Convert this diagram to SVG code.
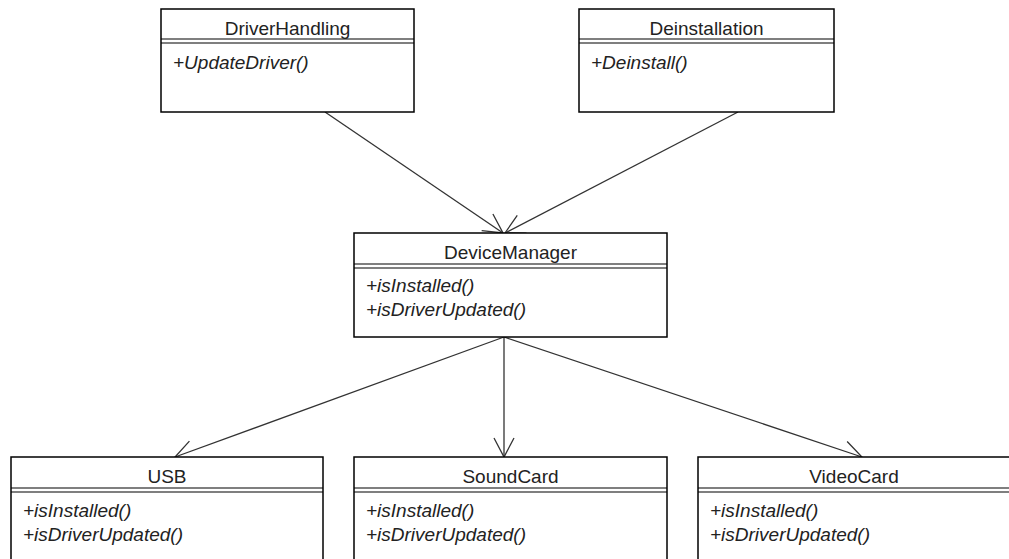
<svg xmlns="http://www.w3.org/2000/svg" width="1009" height="559" viewBox="0 0 1009 559">
  <style>
    .box { fill: #ffffff; stroke: #000000; stroke-width: 1.5; }
    .sep { stroke: #000000; stroke-width: 1.2; }
    .name { font-family: "Liberation Sans", Arial, sans-serif; font-size: 19px; fill: #222222; text-anchor: middle; }
    .op { font-family: "Liberation Sans", Arial, sans-serif; font-size: 19px; font-style: italic; fill: #222222; }
    .edge { fill: none; stroke: #333333; stroke-width: 1.3; }
  </style>
  <defs>
    <!-- open UML arrowhead -->
    <marker id="open" markerUnits="userSpaceOnUse" markerWidth="30" markerHeight="30" viewBox="-25 -15 30 30" refX="0" refY="0" orient="auto">
      <path d="M -19,-10 L 0,0 L -19,10" fill="none" stroke="#333333" stroke-width="1.3"/>
    </marker>
  </defs>

  <g id="connectors">
    <line class="edge" x1="325" y1="112" x2="503" y2="233" marker-end="url(#open)"/>
    <line class="edge" x1="738" y1="112" x2="505" y2="233" marker-end="url(#open)"/>
    <line class="edge" x1="504" y1="337" x2="175" y2="457" marker-end="url(#open)"/>
    <line class="edge" x1="504" y1="337" x2="504" y2="457" marker-end="url(#open)"/>
    <line class="edge" x1="504" y1="337" x2="862" y2="457" marker-end="url(#open)"/>
  </g>

  <g id="DriverHandling">
    <rect class="box" x="161" y="9" width="253" height="103"/>
    <line class="sep" x1="161" y1="39" x2="414" y2="39"/>
    <line class="sep" x1="161" y1="43" x2="414" y2="43"/>
    <text class="name" x="287.5" y="35">DriverHandling</text>
    <text class="op" x="173" y="69">+UpdateDriver()</text>
  </g>

  <g id="Deinstallation">
    <rect class="box" x="579" y="9" width="255" height="103"/>
    <line class="sep" x1="579" y1="39" x2="834" y2="39"/>
    <line class="sep" x1="579" y1="43" x2="834" y2="43"/>
    <text class="name" x="706.5" y="35">Deinstallation</text>
    <text class="op" x="591" y="69">+Deinstall()</text>
  </g>

  <g id="DeviceManager">
    <rect class="box" x="354" y="233" width="313" height="104"/>
    <line class="sep" x1="354" y1="264" x2="667" y2="264"/>
    <line class="sep" x1="354" y1="268" x2="667" y2="268"/>
    <text class="name" x="510.5" y="259">DeviceManager</text>
    <text class="op" x="366" y="292">+isInstalled()</text>
    <text class="op" x="366" y="316">+isDriverUpdated()</text>
  </g>

  <g id="USB">
    <rect class="box" x="11" y="457" width="312" height="130"/>
    <line class="sep" x1="11" y1="488" x2="323" y2="488"/>
    <line class="sep" x1="11" y1="492" x2="323" y2="492"/>
    <text class="name" x="167" y="483">USB</text>
    <text class="op" x="23" y="517">+isInstalled()</text>
    <text class="op" x="23" y="541">+isDriverUpdated()</text>
  </g>

  <g id="SoundCard">
    <rect class="box" x="354" y="457" width="313" height="130"/>
    <line class="sep" x1="354" y1="488" x2="667" y2="488"/>
    <line class="sep" x1="354" y1="492" x2="667" y2="492"/>
    <text class="name" x="510.5" y="483">SoundCard</text>
    <text class="op" x="366" y="517">+isInstalled()</text>
    <text class="op" x="366" y="541">+isDriverUpdated()</text>
  </g>

  <g id="VideoCard">
    <rect class="box" x="698" y="457" width="320" height="130"/>
    <line class="sep" x1="698" y1="488" x2="1018" y2="488"/>
    <line class="sep" x1="698" y1="492" x2="1018" y2="492"/>
    <text class="name" x="854" y="483">VideoCard</text>
    <text class="op" x="710" y="517">+isInstalled()</text>
    <text class="op" x="710" y="541">+isDriverUpdated()</text>
  </g>
</svg>
